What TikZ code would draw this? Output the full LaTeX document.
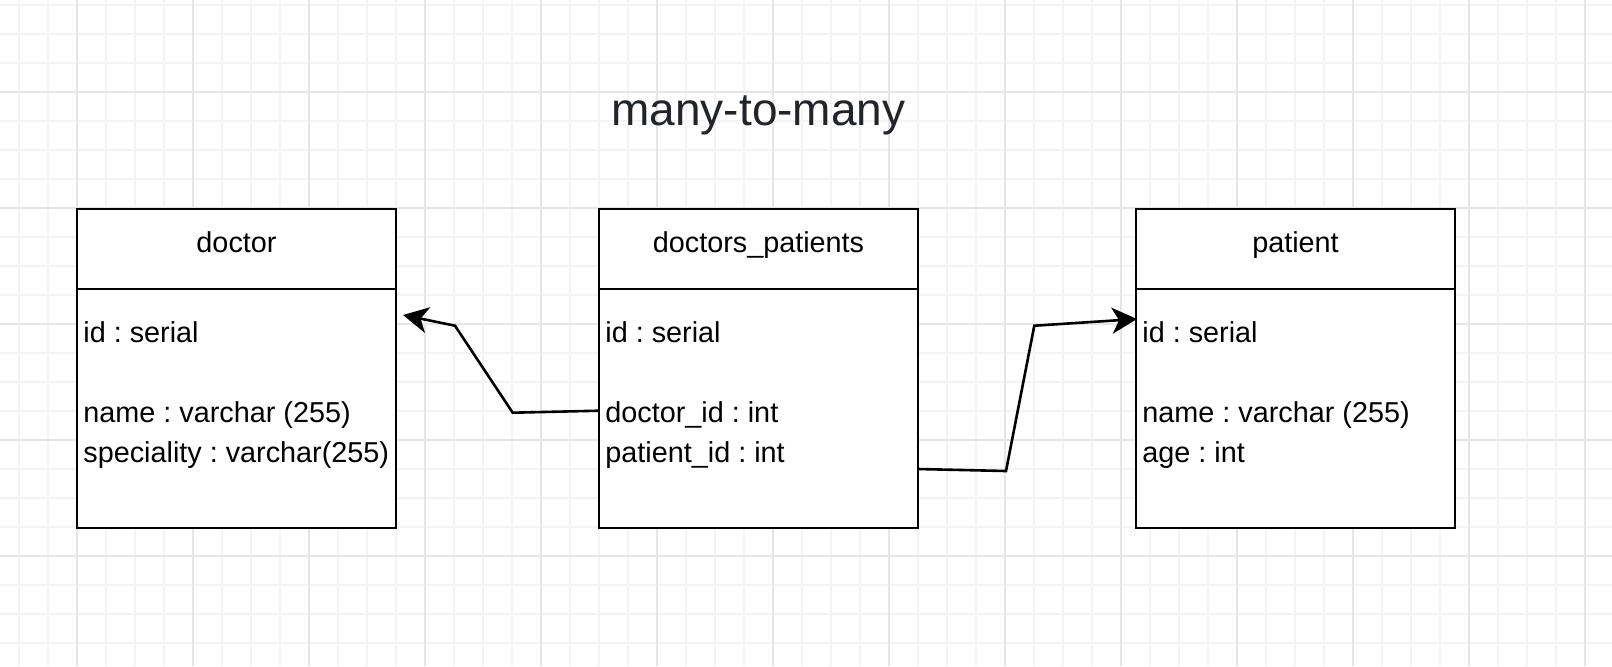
\documentclass[tikz,border=0pt]{standalone}
\usepackage{fontspec}
\setmainfont{Liberation Sans}
\usetikzlibrary{arrows.meta}
\definecolor{gridminor}{RGB}{244,244,244}
\definecolor{gridmajor}{RGB}{230,230,230}
\definecolor{titlecol}{RGB}{33,37,41}
\newcommand{\bodyfnt}{\fontsize{14.4pt}{17pt}\selectfont\frenchspacing}
\newcommand{\titlefnt}{\fontsize{23pt}{27pt}\selectfont}
\begin{document}
\frenchspacing
\begin{tikzpicture}[x=0.5pt,y=-0.5pt,
  tbl/.style={draw=black, line width=1.4pt, fill=white, minimum width=159.5pt,
    minimum height=159.5pt, anchor=north west, inner sep=0pt, outer sep=0pt},
  hdr/.style={anchor=base, inner sep=0pt, font=\bodyfnt, text=black},
  rowtxt/.style={anchor=base west, inner sep=0pt, font=\bodyfnt, text=black},
  divider/.style={line width=1.4pt, draw=black},
  conn/.style={line width=1.3pt, draw=black, line join=miter,
    -{Stealth[length=12.5pt,width=13pt,inset=3.5pt]}},
  minorline/.style={draw=gridminor, line width=0.6pt},
  majorline/.style={draw=gridmajor, line width=1pt}]
\fill[white] (0,0) rectangle (1612,666);
\useasboundingbox (0,0) rectangle (1612,666);
% grid
\foreach \x in {19,48,...,1612} \draw[minorline] (\x,0) -- (\x,666);
\foreach \y in {5,34,...,666} \draw[minorline] (0,\y) -- (1612,\y);
\foreach \x in {77,193,...,1612} \draw[majorline] (\x,0) -- (\x,666);
\foreach \y in {92,208,...,666} \draw[majorline] (0,\y) -- (1612,\y);
% title
\node[anchor=base, inner sep=0pt, font=\titlefnt, text=titlecol] (title) at (758.5,125) {many-to-many};
% tables
\node[tbl] (doctor) at (77,209) {};
\node[tbl] (dp) at (599,209) {};
\node[tbl] (patient) at (1136,209) {};
\draw[divider] (77,289) -- (396,289);
\draw[divider] (599,289) -- (918,289);
\draw[divider] (1136,289) -- (1455,289);
% headers
\node[hdr] (dhead) at (236.5,252) {doctor};
\node[hdr] (dphead) at (758.5,252) {doctors\_patients};
\node[hdr] (phead) at (1295.5,252) {patient};
% rows
\node[rowtxt] (d1) at (83,342) {id : serial};
\node[rowtxt] (d2) at (83,422) {name : varchar (255)};
\node[rowtxt] (d3) at (83,462) {speciality : varchar(255)};
\node[rowtxt] (dp1) at (605,342) {id : serial};
\node[rowtxt] (dp2) at (605,422) {doctor\_id : int};
\node[rowtxt] (dp3) at (605,462) {patient\_id : int};
\node[rowtxt] (p1) at (1142,342) {id : serial};
\node[rowtxt] (p2) at (1142,422) {name : varchar (255)};
\node[rowtxt] (p3) at (1142,462) {age : int};
% connector points
\coordinate (ls) at (599,410.7);
\coordinate (lb1) at (512.7,412.7);
\coordinate (lb2) at (455,325.7);
\coordinate (lt) at (403,315);
\coordinate (rs) at (918,469);
\coordinate (rb1) at (1006,471);
\coordinate (rb2) at (1034.3,325.7);
\coordinate (rt) at (1137,319);
\draw[conn] (ls) -- (lb1) -- (lb2) -- (lt);
\draw[conn] (rs) -- (rb1) -- (rb2) -- (rt);
\end{tikzpicture}
\end{document}
